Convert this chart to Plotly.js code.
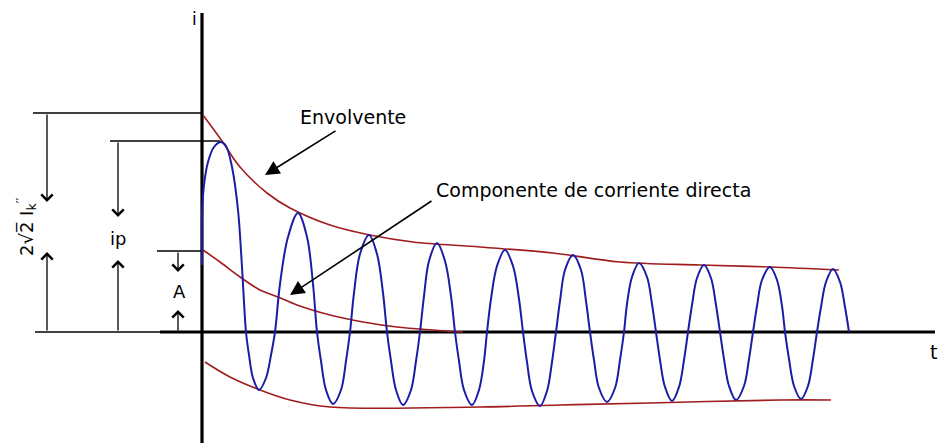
<!DOCTYPE html>
<html>
<head>
<meta charset="utf-8">
<script src="https://cdn.plot.ly/plotly-3.0.1.min.js"></script>
<style>html,body{margin:0;padding:0;background:#fff;}#chart{width:941px;height:447px;}</style>
</head>
<body>
<div id="chart"></div>
<script>
// Short-circuit current (arbitrary units): t along the time axis, i along the current axis
const waveT = [0, 0, 2, 6, 12, 19, 24, 30, 36, 40, 44,
  47, 51, 57, 64, 69, 73,
  78, 86, 96, 105, 111, 115,
  119, 124, 131, 139, 144, 148,
  152, 158, 167, 175, 181, 185,
  189, 194, 201, 209, 214, 218,
  222, 227, 235, 243, 249, 253,
  257, 262, 270, 277, 282, 285,
  289, 295, 303, 311, 317, 321,
  325, 330, 338, 345, 350, 354,
  358, 363, 371, 379, 384, 388,
  392, 397, 405, 413, 418, 422,
  425, 430, 437, 445, 450, 454,
  458, 463, 470, 477, 482, 486,
  490, 495, 502, 509, 514, 518,
  522, 527, 534, 542, 547, 551,
  555, 560, 568, 575, 580, 583,
  587, 592, 599, 606, 611, 615,
  619, 624, 631, 638, 643, 647];
const waveI = [67, 117, 147, 170, 185, 190, 186, 165, 122, 65, 0,
  -23, -46, -58, -46, -23, 0,
  48, 95, 119, 95, 48, 0,
  -29, -58, -72, -58, -29, 0,
  39, 78, 97, 78, 39, 0,
  -29, -58, -73, -58, -29, 0,
  36, 71, 89, 71, 36, 0,
  -29, -58, -73, -58, -29, 0,
  33, 66, 82, 66, 33, 0,
  -30, -59, -74, -59, -30, 0,
  31, 62, 77, 62, 31, 0,
  -28, -56, -70, -56, -28, 0,
  28, 55, 69, 55, 28, 0,
  -28, -55, -69, -55, -28, 0,
  27, 54, 67, 54, 27, 0,
  -27, -54, -68, -54, -27, 0,
  26, 52, 65, 52, 26, 0,
  -27, -54, -67, -54, -27, 0,
  25, 50, 63, 50, 25, 0];

const upperT = [1, 20, 38, 65, 88, 128, 168, 211, 278, 351, 418, 498, 568, 637];
const upperI = [217, 191, 165, 139, 124, 107, 97, 90, 85, 79, 70, 67, 65, 62];

const lowerT = [3, 28, 58, 88, 128, 278, 358, 448, 578, 629];
const lowerI = [-30, -45, -58, -68, -75, -75, -73, -71, -68, -68];

const dcT = [1, 18, 38, 58, 76, 95, 128, 161, 195, 231, 261];
const dcI = [82, 70, 55, 42, 35, 27, 17, 10, 5, 2, 0];

// Reference levels used by the dimension marks
const levelPeakEnv = 219;   // 2√2 I_k''
const levelIp = 191;        // ip
const levelA = 81;          // A

const labelEnv = 'Envolvente';
const labelDC = 'Componente de corriente directa';
const labelI = 'i';
const labelT = 't';
const labelIk = '2√2\u0305 I<sub>k</sub><sup>\u2032\u2032</sup>';
const labelIp = 'ip';
const labelA = 'A';

const RED = '#a11d1d';
const BLUE = '#1c1ca6';
const FONT = 'DejaVu Sans, Verdana, sans-serif';

const traces = [
  {x: upperT, y: upperI, mode: 'lines', line: {color: RED, width: 1.6, shape: 'spline'}, hoverinfo: 'skip'},
  {x: lowerT, y: lowerI, mode: 'lines', line: {color: RED, width: 1.6, shape: 'spline'}, hoverinfo: 'skip'},
  {x: dcT, y: dcI, mode: 'lines', line: {color: RED, width: 1.6, shape: 'spline'}, hoverinfo: 'skip'},
  {x: waveT, y: waveI, mode: 'lines', line: {color: BLUE, width: 2, shape: 'spline', smoothing: 1}, hoverinfo: 'skip'}
];

function hline(x0, x1, y, w) {
  return {type: 'line', xref: 'x', yref: 'y', x0: x0, x1: x1, y0: y, y1: y, line: {color: '#000', width: w || 1.5}, layer: 'below'};
}
function vline(x, y0, y1, w) {
  return {type: 'line', xref: 'x', yref: 'y', x0: x, x1: x, y0: y0, y1: y1, line: {color: '#000', width: w || 1.5}, layer: 'below'};
}

const shapes = [
  // axes
  vline(0, 319, -111, 3.2),
  hline(-42, 733, 0, 3.2),
  // dimension reference lines
  hline(-169, 0, levelPeakEnv),
  hline(-92, 18, levelIp),
  hline(-45, 0, levelA),
  hline(-167, 0, 0)
];

function dimArrow(x, yFrom, yTo) {
  return {x: x, y: yTo, ax: x, ay: yFrom, xref: 'x', yref: 'y', axref: 'x', ayref: 'y',
    text: '', showarrow: true, arrowhead: 4, arrowsize: 1.7, arrowwidth: 1.3, arrowcolor: '#000', standoff: 0};
}
function txt(x, y, s, size, extra) {
  return Object.assign({x: x, y: y, xref: 'x', yref: 'y', text: s, showarrow: false,
    font: {family: FONT, size: size, color: '#000'}, xanchor: 'center', yanchor: 'middle'}, extra || {});
}

const annotations = [
  dimArrow(-155, levelPeakEnv, 130),
  dimArrow(-155, 0, 80),
  dimArrow(-84, levelIp, 115),
  dimArrow(-84, 0, 72),
  dimArrow(-24, levelA, 60),
  dimArrow(-24, 0, 22),
  txt(-176, 105, labelIk, 18, {textangle: -90}),
  txt(-84, 94, labelIp, 18),
  txt(-23, 41, labelA, 18),
  txt(-8, 313, labelI, 17),
  txt(731, -20, labelT, 19),
  txt(151, 215, labelEnv, 19),
  txt(391, 142, labelDC, 19),
  {x: 63, y: 157, ax: 135, ay: 202, xref: 'x', yref: 'y', axref: 'x', ayref: 'y', text: '', showarrow: true,
    arrowhead: 2, arrowsize: 1.8, arrowwidth: 1.6, arrowcolor: '#000', standoff: 0},
  {x: 88, y: 37, ax: 231, ay: 132, xref: 'x', yref: 'y', axref: 'x', ayref: 'y', text: '', showarrow: true,
    arrowhead: 2, arrowsize: 1.8, arrowwidth: 1.6, arrowcolor: '#000', standoff: 0}
];

const layout = {
  width: 941, height: 447,
  margin: {l: 0, r: 0, t: 0, b: 0, pad: 0},
  paper_bgcolor: '#ffffff', plot_bgcolor: '#ffffff',
  showlegend: false,
  xaxis: {range: [-202, 739], visible: false, fixedrange: true},
  yaxis: {range: [-115, 332], visible: false, fixedrange: true},
  shapes: shapes,
  annotations: annotations
};

Plotly.newPlot('chart', traces, layout, {staticPlot: true, displayModeBar: false});
</script>
</body>
</html>
